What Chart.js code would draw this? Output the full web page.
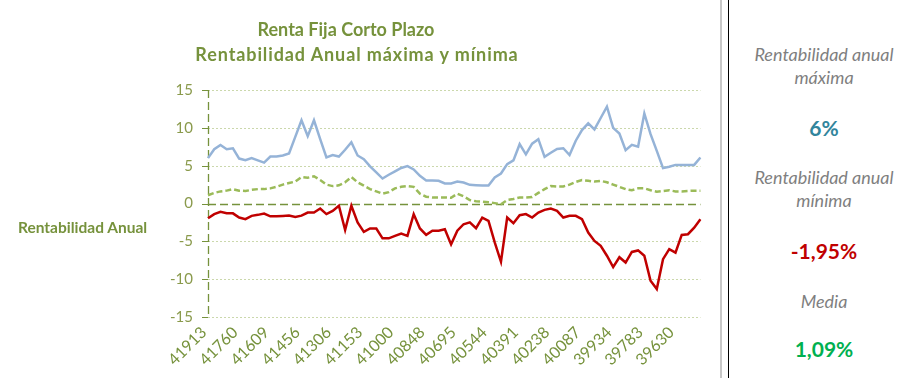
<!DOCTYPE html>
<html>
<head>
<meta charset="utf-8">
<script src="https://cdn.jsdelivr.net/npm/chart.js@4"></script>
<style>
  html, body { margin:0; padding:0; background:#fff; }
  #wrap { position:relative; width:904px; height:378px; overflow:hidden; font-family: Lato, "Open Sans", sans-serif; }
  #c { position:absolute; left:0; top:0; }
  .t { position:absolute; white-space:nowrap; }
  .title { color:#76923C; font-weight:bold; font-size:18px; text-align:center; }
  .ylab { color:#76923C; font-weight:bold; font-size:15.5px; left:18px; top:218px; }
  .vline1 { position:absolute; left:720px; top:0; width:2px; height:378px; background:#C8C8C8; }
  .vline2 { position:absolute; left:728px; top:0; width:1px; height:378px; background:#000; }
  .side { position:absolute; left:737px; width:174px; text-align:center; }
  .lab { color:#7F7F7F; font-style:italic; font-size:18px; line-height:23px; }
  .val { font-weight:bold; font-size:21px; }
</style>
</head>
<body>
<div id="wrap">
  <canvas id="c" width="720" height="378"></canvas>
  <div class="t title" style="left:196px; top:18px; width:300px;">Renta Fija Corto Plazo</div>
  <div class="t title" style="left:157px; top:43px; width:400px; letter-spacing:0.9px;">Rentabilidad Anual máxima y mínima</div>
  <div class="t ylab">Rentabilidad Anual</div>
  <div class="vline1"></div>
  <div class="vline2"></div>
  <div class="side lab" style="top:43px;">Rentabilidad anual<br>máxima</div>
  <div class="side val" style="top:115px; color:#31859C;">6%</div>
  <div class="side lab" style="top:166px;">Rentabilidad anual<br>mínima</div>
  <div class="side val" style="top:238px; color:#C00000;">-1,95%</div>
  <div class="side lab" style="top:290px;">Media</div>
  <div class="side val" style="top:336px; color:#00B050;">1,09%</div>
</div>
<script>
// Categories: monthly date serials (newest first)
const categories = [
  41913,41883,41852,41821,41791,41760,41730,41699,41671,41640,
  41609,41579,41548,41518,41487,41456,41426,41395,41365,41334,
  41306,41275,41244,41214,41183,41153,41122,41091,41061,41030,
  41000,40969,40940,40909,40878,40848,40817,40787,40756,40725,
  40695,40664,40634,40603,40575,40544,40513,40483,40452,40422,
  40391,40360,40330,40299,40269,40238,40210,40179,40148,40118,
  40087,40057,40026,39995,39965,39934,39904,39873,39845,39814,
  39783,39753,39722,39692,39661,39630,39600,39569,39539,39508
];
// Rentabilidad anual máxima
const maxValues = [
  6.0,7.17,7.74,7.17,7.3,5.94,5.72,6.0,5.7,5.4,
  6.2,6.2,6.35,6.6,8.8,11.0,8.9,11.0,8.5,6.1,
  6.4,6.2,7.1,8.1,6.35,5.85,4.9,4.1,3.3,3.8,
  4.25,4.7,4.95,4.5,3.65,3.05,3.05,3.0,2.65,2.65,
  2.9,2.78,2.47,2.42,2.38,2.38,3.44,3.96,5.2,5.7,
  7.84,6.5,7.9,8.5,6.17,6.7,7.2,7.3,6.4,8.3,
  9.7,10.6,9.8,11.3,12.8,10.0,9.25,7.05,7.75,7.5,
  11.9,9.16,6.96,4.67,4.85,5.1,5.1,5.1,5.1,6.08
];
// Media
const meanValues = [
  1.09,1.4,1.6,1.7,1.9,1.7,1.65,1.8,1.9,1.9,
  2.0,2.2,2.5,2.7,2.9,3.5,3.4,3.6,3.1,2.5,
  2.3,2.4,2.8,3.5,2.8,2.35,1.9,1.6,1.3,1.5,
  2.0,2.2,2.3,2.2,1.3,0.9,0.8,0.8,0.8,0.75,
  1.3,0.95,0.45,0.3,0.25,0.15,0.05,-0.1,0.45,0.6,
  0.8,0.8,0.85,1.4,1.9,2.3,2.25,2.25,2.5,2.85,
  3.1,3.0,2.9,3.0,2.8,2.5,2.2,1.9,1.75,2.0,
  2.0,1.75,1.55,1.65,1.75,1.6,1.6,1.65,1.7,1.7
];
// Rentabilidad anual mínima
const minValues = [
  -1.95,-1.4,-1.1,-1.3,-1.3,-1.85,-2.07,-1.63,-1.5,-1.33,
  -1.7,-1.7,-1.65,-1.6,-1.77,-1.6,-1.2,-1.2,-0.67,-1.4,
  -0.98,-0.3,-3.5,-0.3,-2.5,-3.75,-3.3,-3.3,-4.6,-4.6,
  -4.27,-3.96,-4.27,-1.41,-3.3,-4.15,-3.6,-3.6,-3.4,-5.4,
  -3.6,-2.74,-2.5,-3.27,-1.86,-2.3,-5.15,-7.7,-1.86,-2.6,
  -1.55,-1.4,-1.86,-1.2,-0.84,-0.67,-0.97,-1.86,-1.63,-1.63,
  -2.07,-3.84,-4.94,-5.6,-6.9,-8.4,-7.1,-7.8,-6.4,-6.2,
  -6.9,-10.2,-11.3,-7.36,-6.04,-6.5,-4.15,-4.06,-3.2,-2.07
];
const yTicks = [15, 10, 5, 0, -5, -10, -15];
const labelEvery = 5;

const axisPlugin = {
  id: 'excelAxes',
  beforeDatasetsDraw(chart) {
    const {ctx, chartArea: a, scales: {y}} = chart;
    ctx.save();
    // dotted gridlines
    ctx.strokeStyle = '#CBD8AC';
    ctx.lineWidth = 1;
    ctx.setLineDash([2, 2]);
    yTicks.forEach(v => {
      if (v === 0) return;
      const py = Math.round(y.getPixelForValue(v)) + 0.5;
      ctx.beginPath(); ctx.moveTo(a.left, py); ctx.lineTo(a.right, py); ctx.stroke();
    });
    // dashed axes
    ctx.strokeStyle = '#76923C';
    ctx.lineWidth = 1.3;
    ctx.setLineDash([8, 4]);
    const y0 = Math.round(y.getPixelForValue(0)) + 0.5;
    ctx.beginPath(); ctx.moveTo(a.left, y0); ctx.lineTo(a.right, y0); ctx.stroke();
    const x0 = Math.round(a.left) + 0.5;
    ctx.beginPath(); ctx.moveTo(x0, a.top); ctx.lineTo(x0, a.bottom); ctx.stroke();
    ctx.setLineDash([]);
    ctx.lineWidth = 1;
    yTicks.forEach(v => {
      const py = Math.round(y.getPixelForValue(v)) + 0.5;
      ctx.beginPath(); ctx.moveTo(a.left - 6, py); ctx.lineTo(a.left, py); ctx.stroke();
    });
    ctx.restore();
  }
};

new Chart(document.getElementById('c'), {
  type: 'line',
  data: {
    labels: categories.map(String),
    datasets: [
      { label: 'Máxima', data: maxValues, borderColor: '#95B3D7', borderWidth: 2.5, pointRadius: 0, tension: 0, fill: false },
      { label: 'Media', data: meanValues, borderColor: '#9BBB59', borderWidth: 2.5, borderDash: [6, 3], pointRadius: 0, tension: 0, fill: false },
      { label: 'Mínima', data: minValues, borderColor: '#C00000', borderWidth: 2.5, pointRadius: 0, tension: 0, fill: false }
    ]
  },
  options: {
    responsive: false,
    animation: false,
    devicePixelRatio: 1,
    layout: { padding: { left: 0, top: 90, right: 14, bottom: 0 } },
    plugins: { legend: { display: false }, title: { display: false }, tooltip: { enabled: false } },
    scales: {
      x: {
        type: 'category',
        offset: false,
        grid: { display: false, drawTicks: false },
        border: { display: false },
        afterFit(s) { s.height = 61; },
        ticks: {
          autoSkip: false,
          minRotation: 45, maxRotation: 45,
          padding: 6,
          labelOffset: -4,
          color: '#76923C',
          font: { family: 'Lato', size: 16 },
          callback(val, i) { return i % labelEvery === 0 ? this.getLabelForValue(val) : ''; }
        }
      },
      y: {
        min: -15, max: 15,
        afterFit(s) { s.width = 208; },
        afterBuildTicks(s) { s.ticks = yTicks.map(v => ({ value: v })); },
        grid: { display: false, drawTicks: false },
        border: { display: false },
        ticks: {
          padding: 15,
          color: '#8A9A4C',
          font: { family: 'Lato', size: 15 }
        }
      }
    }
  },
  plugins: [axisPlugin]
});
</script>
</body>
</html>
